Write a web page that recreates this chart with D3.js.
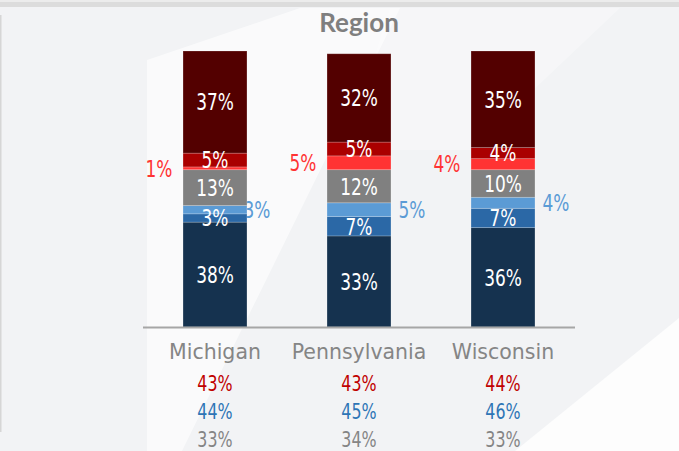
<!DOCTYPE html>
<html>
<head>
<meta charset="utf-8">
<script src="https://cdn.jsdelivr.net/npm/d3@7"></script>
<style>
  html, body { margin: 0; padding: 0; background: #f3f4f6; }
  svg { display: block; }
</style>
</head>
<body>
<div id="chart"></div>
<script>
// states along the x axis
const states = ['Michigan', 'Pennsylvania', 'Wisconsin'];

// stacked segments, bottom to top (percent)
const demStrong = [38, 33, 36];
const demLean = [3, 7, 7];
const demSoft = [3, 5, 4];
const undecided = [13, 12, 10];
const repSoft = [1, 5, 4];
const repLean = [5, 5, 4];
const repStrong = [37, 32, 35];

// summary rows under the state names
const repTotal = [43, 43, 44];
const demTotal = [44, 45, 46];
const otherRow = [33, 34, 33];

const width = 679;
const height = 451;

const keys = ['demStrong', 'demLean', 'demSoft', 'undecided', 'repSoft', 'repLean', 'repStrong'];
const colors = {
  demStrong: '#15324f',
  demLean: '#2b68a6',
  demSoft: '#5b9bd5',
  undecided: '#808080',
  repSoft: '#ff3333',
  repLean: '#aa0000',
  repStrong: '#530000',
};
// where the value label goes: inside the bar, left of it or right of it
const labelSide = {
  demStrong: 'in', demLean: 'in', demSoft: 'right', undecided: 'in',
  repSoft: 'left', repLean: 'in', repStrong: 'in',
};
const calloutColor = { demSoft: '#5b9bd5', repSoft: '#ff3333' };
const rightShift = [10, 21, 21];

const series = { demStrong, demLean, demSoft, undecided, repSoft, repLean, repStrong };
const table = states.map((s, i) => {
  const row = { state: s };
  keys.forEach((k) => (row[k] = series[k][i]));
  return row;
});
const stacked = d3.stack().keys(keys)(table);

const svg = d3
  .select('#chart')
  .append('svg')
  .attr('width', width)
  .attr('height', height);

// background + watermark shapes
svg.append('rect').attr('width', width).attr('height', height).attr('fill', '#f2f3f5');
svg.append('rect').attr('x', 0).attr('y', 0).attr('width', width).attr('height', 2).attr('fill', '#ececec');
svg.append('rect').attr('x', 0).attr('y', 2).attr('width', width).attr('height', 5).attr('fill', '#dcdcdc');
svg.append('rect').attr('x', 0).attr('y', 15).attr('width', 1.5).attr('height', 417).attr('fill', '#d6d6d6');

const watermark = [
  [[147, 451], [147, 60], [300, 8], [400, 8], [182, 451]],
  [[390, 8], [620, 8], [470, 150], [345, 150]],
  [[679, 318], [679, 451], [515, 451]],
];
svg
  .selectAll('.wm')
  .data(watermark)
  .enter()
  .append('polygon')
  .attr('points', (d) => d.map((p) => p.join(',')).join(' '))
  .attr('fill', '#ffffff')
  .attr('opacity', (d, i) => [0.6, 0.3, 0.8][i]);

const x = d3
  .scaleBand()
  .domain(states)
  .range([143, 575])
  .paddingInner(0.556)
  .paddingOuter(0.278);

const y = d3.scaleLinear().domain([0, 100]).range([327, 51]);

const numFont = "'DejaVu Sans Condensed', 'DejaVu Sans', sans-serif";

// narrow, tall number labels
function numLabel(sel, fx, fy, size, fill) {
  return sel
    .append('text')
    .attr('transform', (d, i) => `translate(${fx(d, i)},${fy(d, i)}) scale(0.82,1)`)
    .attr('text-anchor', 'middle')
    .style('font-family', numFont)
    .style('font-size', size + 'px')
    .attr('fill', fill);
}

// title
svg
  .append('text')
  .attr('x', x('Pennsylvania') + x.bandwidth() / 2)
  .attr('y', 32)
  .attr('text-anchor', 'middle')
  .style('font-family', 'Lato, sans-serif')
  .style('font-weight', 'bold')
  .style('font-size', '26px')
  .attr('fill', '#7f7f7f')
  .text('Region');

// callout labels first so the bars sit over them
stacked
  .filter((s) => labelSide[s.key] !== 'in')
  .forEach((s) => {
    numLabel(
      svg.append('g').selectAll('text').data(s).enter(),
      (d, i) =>
        labelSide[s.key] === 'left'
          ? x(d.data.state) - 24
          : x(d.data.state) + x.bandwidth() + rightShift[i],
      (d) => (y(d[0]) + y(d[1])) / 2,
      23,
      calloutColor[s.key],
    )
      .attr('dy', '0.36em')
      .text((d) => d.data[s.key] + '%');
  });

// bars
const layers = svg
  .append('g')
  .selectAll('g')
  .data(stacked)
  .enter()
  .append('g')
  .attr('fill', (d) => colors[d.key]);

layers
  .selectAll('rect')
  .data((d) => d)
  .enter()
  .append('rect')
  .attr('x', (d) => x(d.data.state))
  .attr('y', (d) => y(d[1]))
  .attr('width', x.bandwidth())
  .attr('height', (d) => y(d[0]) - y(d[1]))
  .attr('stroke', 'rgba(255,255,255,0.25)')
  .attr('stroke-width', 0.8);

// labels inside the bars
stacked
  .filter((s) => labelSide[s.key] === 'in')
  .forEach((s) => {
    numLabel(
      svg.append('g').selectAll('text').data(s).enter(),
      (d) => x(d.data.state) + x.bandwidth() / 2,
      (d) => (y(d[0]) + y(d[1])) / 2,
      23,
      '#ffffff',
    )
      .attr('dy', '0.36em')
      .text((d) => d.data[s.key] + '%');
  });

// baseline axis
svg
  .append('line')
  .attr('x1', 143)
  .attr('x2', 575)
  .attr('y1', y(0) + 0.5)
  .attr('y2', y(0) + 0.5)
  .attr('stroke', '#a6a6a6')
  .attr('stroke-width', 2);

// state names
svg
  .append('g')
  .selectAll('text')
  .data(states)
  .enter()
  .append('text')
  .attr('x', (d) => x(d) + x.bandwidth() / 2)
  .attr('y', 359)
  .attr('text-anchor', 'middle')
  .style('font-family', "'DejaVu Sans', sans-serif")
  .style('font-size', '20.5px')
  .attr('fill', '#858585')
  .text((d) => d);

// summary rows
const rows = [
  { values: repTotal, color: '#c00000', y: 391 },
  { values: demTotal, color: '#2e75b6', y: 419 },
  { values: otherRow, color: '#858585', y: 447 },
];
rows.forEach((r) => {
  numLabel(
    svg.append('g').selectAll('text').data(r.values).enter(),
    (d, i) => x(states[i]) + x.bandwidth() / 2,
    () => r.y,
    21.5,
    r.color,
  ).text((d) => d + '%');
});
</script>
</body>
</html>
